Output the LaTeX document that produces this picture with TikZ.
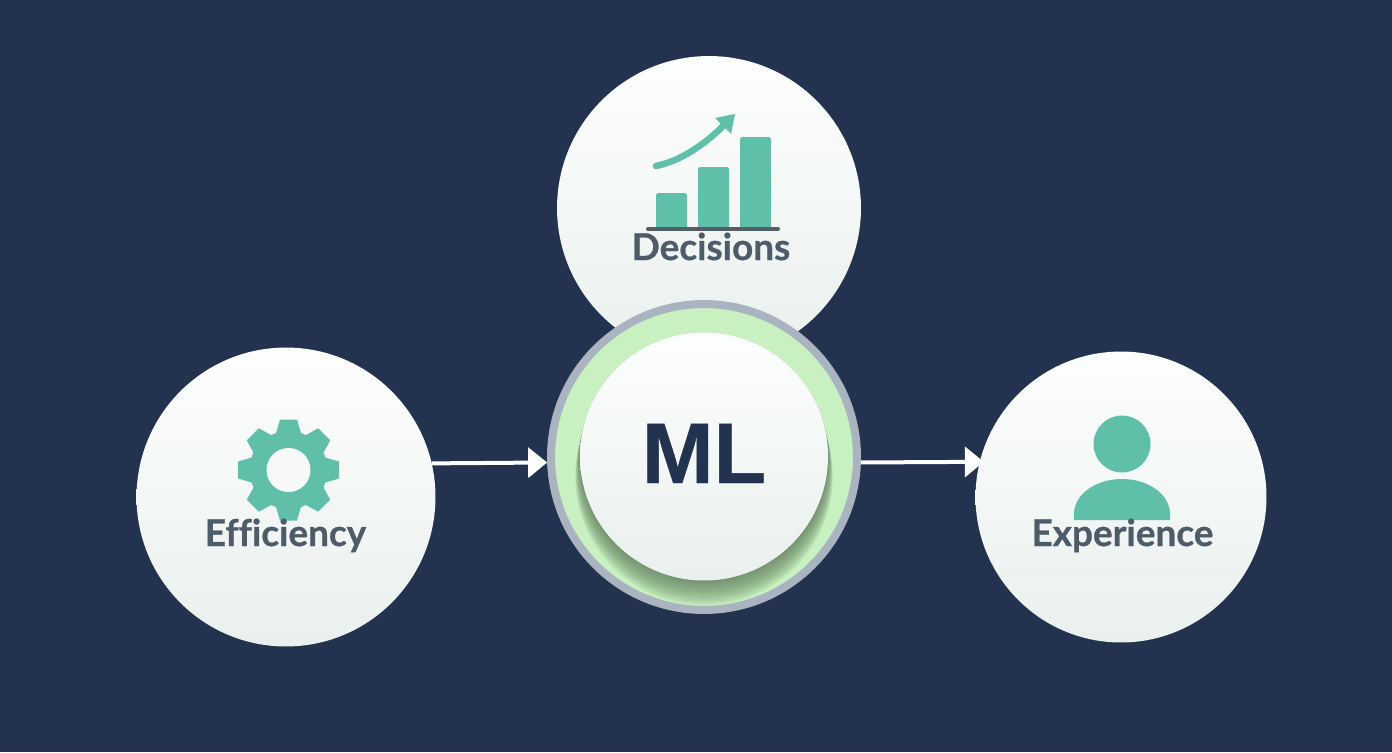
\documentclass[tikz,border=0pt]{standalone}
\usepackage{fontspec}
\setmainfont[Ligatures=NoCommon,BoldFeatures={FakeBold=0.7}]{Lato}
\newfontfamily\mlfont[BoldFeatures={FakeBold=0.5}]{Liberation Sans}
\usetikzlibrary{arrows.meta}
\definecolor{page_blue}{HTML}{23324E}
\definecolor{icon_green}{HTML}{5FBFA9}
\definecolor{label_grey}{HTML}{4D5C68}
\definecolor{base_grey}{HTML}{555E66}
\definecolor{ring_grey}{HTML}{A9B4C0}
\definecolor{ring_green}{HTML}{C8F0C0}
\definecolor{shadow_green}{HTML}{607C5D}
\definecolor{hole_white}{HTML}{F7F9F9}
\definecolor{disc_top}{HTML}{FDFEFE}
\definecolor{disc_middle}{HTML}{F6F9F9}
\definecolor{disc_bottom}{HTML}{E9F0ED}

\begin{document}
\begin{tikzpicture}[x=0.02cm,y=-0.02cm,
	main_node/.style={circle,inner sep=0pt,outer sep=0pt,top color=disc_top,middle color=disc_middle,bottom color=disc_bottom},
	label_node/.style={inner sep=0pt,anchor=base,text=label_grey,font=\fontsize{21}{21}\selectfont\bfseries},
	link_line/.style={draw=white,line width=0.08cm,-{Triangle[length=0.38cm,width=0.6cm]}},
	icon_fill/.style={fill=icon_green}]

		\fill[page_blue] (0,0) rectangle (1392,752);

		\node[main_node,minimum size=6.08cm] (decisions) at (709,208) {};
		\node[main_node,minimum size=5.98cm] (efficiency) at (286,497) {};
		\node[main_node,minimum size=5.82cm] (experience) at (1121,497) {};
		\node[circle,draw=ring_grey,fill=ring_green,line width=0.16cm,inner sep=0pt,outer sep=0.08cm,minimum size=6.12cm] (ring) at (704,457) {};

		\begin{scope}
			\clip (704,457) circle (150);
			\foreach \i in {1,...,28}
				\fill[shadow_green,opacity=0.042] (704,{456+\i*0.75}) circle ({124+\i*0.17});
		\end{scope}
		\node[main_node,minimum size=4.96cm] (ml) at (704,456.5) {};
		\node[inner sep=0pt,anchor=base,text=page_blue,font=\fontsize{49}{49}\selectfont\mlfont\bfseries] (ml_text) at (704,483) {ML};

		\draw[link_line] (efficiency.13) -- (ring.182.2);
		\draw[link_line,shorten >=-0.08cm] (ring.-2.2) -- (experience.166.5);

		\foreach \x/\h in {656/193,698/167,740/137}
			\fill[icon_fill,rounded corners=1pt] (\x,229) rectangle ({\x+31},\h);
		\draw[base_grey,line width=0.08cm,line cap=round] (648,229) -- (778,229);
		\draw[icon_green,line width=0.13cm,line cap=round] (656,166) .. controls (680,161) and (705,145) .. (727,122);
		\fill[icon_fill] (735,114) -- (715,118) -- (731,134) -- cycle;
		\node[label_node] (decisions_text) at (711,260) {Decisions};

		\fill[icon_fill] (288.5,470) circle (39);
		\foreach \a in {0,45,...,315}
			\fill[icon_fill,shift={(288.5,470)},rotate=\a] (-13,-35) -- (-8.5,-50.5) -- (8.5,-50.5) -- (13,-35) -- cycle;
		\node[circle,fill=hole_white,inner sep=0pt,minimum size=0.88cm] (gear_hole) at (288.5,470) {};
		\node[label_node] (efficiency_text) at (285.5,546) {Efficiency};

		\node[circle,icon_fill,inner sep=0pt,minimum size=1.14cm] (person_head) at (1122,444) {};
		\fill[icon_fill] (1074,520) -- (1074,512) .. controls (1076,492) and (1098,479) .. (1122,479) .. controls (1146,479) and (1168,492) .. (1170,512) -- (1170,520) -- cycle;
		\node[label_node] (experience_text) at (1122.5,546) {Experience};
		\end{tikzpicture}
\end{document}
